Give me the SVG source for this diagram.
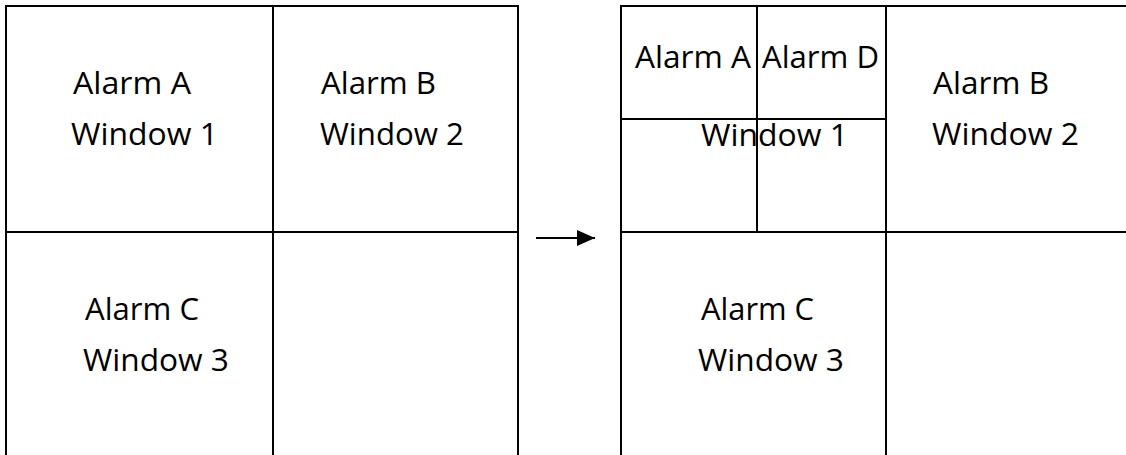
<svg xmlns="http://www.w3.org/2000/svg" width="1126" height="455" viewBox="0 0 1126 455">
<defs>
<style>
.ln{stroke:#000;stroke-width:2;fill:none}
.t{font-family:"Open Sans","Noto Sans",sans-serif;font-size:31px;fill:#000}
</style>
<marker id="ah" viewBox="0 0 18 16" refX="18" refY="8" markerWidth="18" markerHeight="16" orient="auto" markerUnits="userSpaceOnUse"><path d="M0,0 L18,8 L0,16 z" fill="#000"/></marker>
</defs>
<rect width="1126" height="455" fill="#fff"/>
<g id="left-grid">
<path class="ln" d="M6,455 V6 H518 V455 M273,6 V455 M6,232 H518"/>
</g>
<g id="l-win1"><text class="t" x="73" y="94" textLength="118" lengthAdjust="spacingAndGlyphs">Alarm A</text><text class="t" x="71" y="145" textLength="147" lengthAdjust="spacingAndGlyphs">Window 1</text></g>
<g id="l-win2"><text class="t" x="321" y="94" textLength="115" lengthAdjust="spacingAndGlyphs">Alarm B</text><text class="t" x="320" y="145" textLength="144" lengthAdjust="spacingAndGlyphs">Window 2</text></g>
<g id="l-win3"><text class="t" x="85" y="320" textLength="114" lengthAdjust="spacingAndGlyphs">Alarm C</text><text class="t" x="83" y="371" textLength="146" lengthAdjust="spacingAndGlyphs">Window 3</text></g>
<g id="right-grid">
<path class="ln" d="M621,455 V6 H1126 M886,6 V455 M621,232 H1126 M757,6 V232 M621,119 H886"/>
</g>
<g id="r-win1"><text class="t" x="635" y="68" textLength="116" lengthAdjust="spacingAndGlyphs">Alarm A</text><text class="t" x="762" y="68" textLength="117" lengthAdjust="spacingAndGlyphs">Alarm D</text><text class="t" x="701" y="146" textLength="147" lengthAdjust="spacingAndGlyphs">Window 1</text></g>
<g id="r-win2"><text class="t" x="933" y="94" textLength="116" lengthAdjust="spacingAndGlyphs">Alarm B</text><text class="t" x="932" y="145" textLength="147" lengthAdjust="spacingAndGlyphs">Window 2</text></g>
<g id="r-win3"><text class="t" x="701" y="320" textLength="113" lengthAdjust="spacingAndGlyphs">Alarm C</text><text class="t" x="698" y="371" textLength="146" lengthAdjust="spacingAndGlyphs">Window 3</text></g>
<g id="connectors">
<line class="ln" x1="536" y1="238" x2="595" y2="238" marker-end="url(#ah)"/>
</g>
</svg>
